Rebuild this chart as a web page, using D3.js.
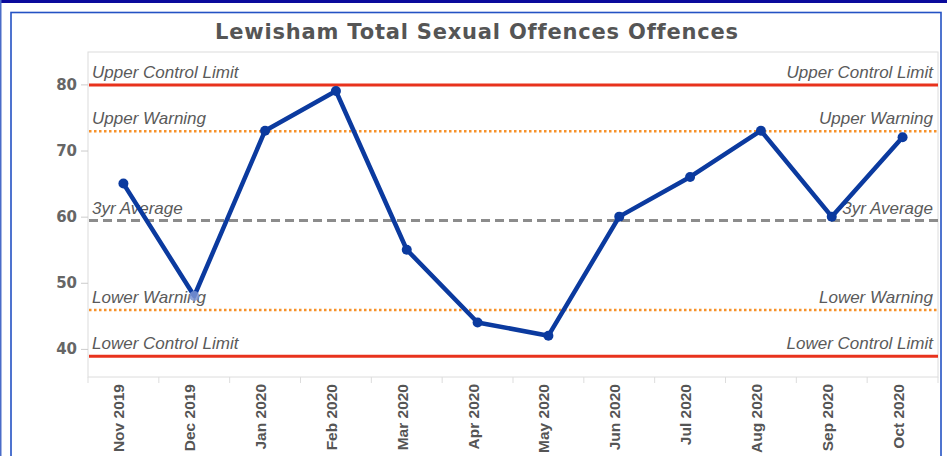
<!DOCTYPE html>
<html>
<head>
<meta charset="utf-8">
<script src="https://cdn.jsdelivr.net/npm/d3@7"></script>
<style>
  body { margin: 0; background: #fff; }
  svg { display: block; }
</style>
</head>
<body>
<script>
// monthly counts
const months = ['Nov 2019', 'Dec 2019', 'Jan 2020', 'Feb 2020', 'Mar 2020', 'Apr 2020',
  'May 2020', 'Jun 2020', 'Jul 2020', 'Aug 2020', 'Sep 2020', 'Oct 2020'];
const offences = [65, 48, 73, 79, 55, 44, 42, 60, 66, 73, 60, 72];
const yTicks = [40, 50, 60, 70, 80];

// control lines
const refNames = ['Upper Control Limit', 'Upper Warning', '3yr Average', 'Lower Warning', 'Lower Control Limit'];
const refValues = [79.9, 72.9, 59.4, 45.9, 38.9];
const refKinds = ['limit', 'warning', 'average', 'warning', 'limit'];

const title = 'Lewisham Total Sexual Offences Offences';

const width = 947, height = 456;
const margin = {top: 52, left: 88, right: 9, bottom: 79};

const svg = d3.select('body').append('svg')
  .attr('width', width)
  .attr('height', height);

// outer frame
svg.append('rect').attr('x', 0).attr('y', 0).attr('width', width).attr('height', 3).attr('fill', '#0a0a9c');
svg.append('rect').attr('x', 0).attr('y', 0).attr('width', 1.5).attr('height', height).attr('fill', '#4a6cc8');
svg.append('rect')
  .attr('x', 11).attr('y', 12.5).attr('width', 930).attr('height', 460)
  .attr('fill', 'none').attr('stroke', '#2452c4').attr('stroke-width', 1.6);

const x = d3.scaleBand()
  .domain(months)
  .range([margin.left, width - margin.right]);

const y = d3.scaleLinear()
  .domain([35.75, 84.9])
  .range([height - margin.bottom, margin.top]);

// plot area border
svg.append('rect')
  .attr('x', margin.left).attr('y', margin.top)
  .attr('width', width - margin.left - margin.right)
  .attr('height', height - margin.top - margin.bottom)
  .attr('fill', 'none').attr('stroke', '#dcdcdc').attr('stroke-width', 1);

svg.append('text')
  .attr('x', 477).attr('y', 39)
  .attr('text-anchor', 'middle')
  .style('font-family', 'DejaVu Sans')
  .style('font-weight', 'bold')
  .style('font-size', '21px')
  .style('letter-spacing', '0.8px')
  .style('fill', '#555')
  .text(title);

// y axis
const yAxis = d3.axisLeft(y).tickValues(yTicks).tickSize(7).tickPadding(4);
const gy = svg.append('g')
  .attr('transform', `translate(${margin.left}, 0)`)
  .call(yAxis);
gy.select('.domain').remove();
gy.selectAll('line').attr('stroke', '#ccc');
gy.selectAll('text')
  .style('font-family', 'DejaVu Sans')
  .style('font-weight', 'bold')
  .style('font-size', '15px')
  .style('fill', '#666');

// x axis ticks at band boundaries
const bounds = months.map(m => x(m)).concat([x(months[months.length - 1]) + x.bandwidth()]);
svg.append('g').selectAll('line')
  .data(bounds)
  .enter().append('line')
  .attr('x1', d => d).attr('x2', d => d)
  .attr('y1', height - margin.bottom).attr('y2', height - margin.bottom + 6)
  .attr('stroke', '#ddd');

svg.append('g').selectAll('text')
  .data(months)
  .enter().append('text')
  .attr('transform', d => `translate(${x(d) + x.bandwidth() / 2 + 1}, ${height - margin.bottom + 7}) rotate(-90)`)
  .attr('text-anchor', 'end')
  .style('font-family', 'Liberation Sans')
  .style('font-weight', 'bold')
  .style('font-size', '15.5px')
  .style('fill', '#555')
  .text(d => d);

// reference lines
const refStyle = {
  limit: {stroke: '#e8321c', width: 3, dash: null},
  warning: {stroke: '#f7922a', width: 2.5, dash: '2.5,2.5'},
  average: {stroke: '#8c8c8c', width: 3, dash: '9,5'}
};
const refs = refNames.map((n, i) => ({name: n, value: refValues[i], kind: refKinds[i]}));

svg.append('g').selectAll('line')
  .data(refs)
  .enter().append('line')
  .attr('x1', margin.left + 1).attr('x2', width - margin.right)
  .attr('y1', d => y(d.value)).attr('y2', d => y(d.value))
  .attr('stroke', d => refStyle[d.kind].stroke)
  .attr('stroke-width', d => refStyle[d.kind].width)
  .attr('stroke-dasharray', d => refStyle[d.kind].dash);

const labelStyle = sel => sel
  .style('font-family', 'Liberation Sans')
  .style('font-style', 'italic')
  .style('font-size', '17px')
  .style('fill', '#5a5a5a');

// labels at both ends, under the data line
svg.append('g').selectAll('text')
  .data(refs)
  .enter().append('text')
  .attr('x', margin.left + 4)
  .attr('y', d => y(d.value) - 7)
  .call(labelStyle)
  .text(d => d.name);

svg.append('g').selectAll('text')
  .data(refs)
  .enter().append('text')
  .attr('x', width - margin.right - 5)
  .attr('y', d => y(d.value) - 7)
  .attr('text-anchor', 'end')
  .call(labelStyle)
  .text(d => d.name);

// main series
const line = d3.line()
  .x((d, i) => x(months[i]) + x.bandwidth() / 2)
  .y(d => y(d));

svg.append('path')
  .datum(offences)
  .attr('d', line)
  .attr('fill', 'none')
  .attr('stroke', '#0b3a9f')
  .attr('stroke-width', 4.5)
  .attr('stroke-linejoin', 'round');

svg.append('g').selectAll('circle')
  .data(offences)
  .enter().append('circle')
  .attr('cx', (d, i) => x(months[i]) + x.bandwidth() / 2)
  .attr('cy', d => y(d))
  .attr('r', 5)
  .attr('fill', (d, i) => i === 1 ? '#7d95d4' : '#0b3a9f')
  .attr('fill-opacity', (d, i) => i === 1 ? 0.85 : 1);
</script>
</body>
</html>
